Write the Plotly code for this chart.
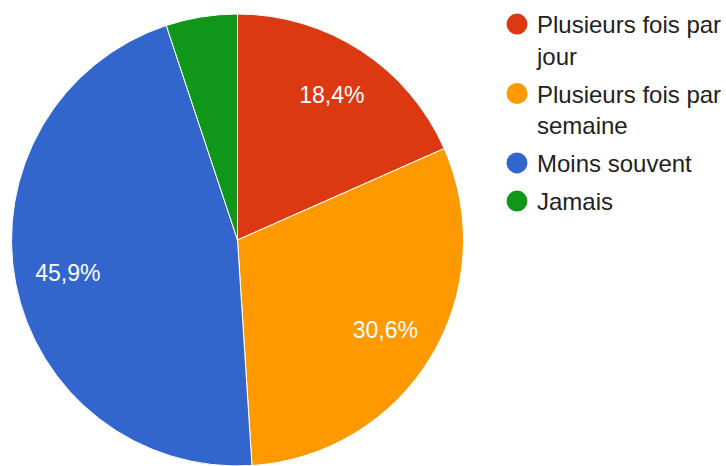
import plotly.graph_objects as go

labels = ["Plusieurs fois par<br>jour", "Plusieurs fois par<br>semaine", "Moins souvent", "Jamais"]
counts = [18, 30, 45, 5]
colors = ["#DC3912", "#FF9900", "#3366CC", "#109618"]
text_templates = ["%{percent:.1%}", "%{percent:.1%}", "%{percent:.1%}", ""]

font_family = "Liberation Sans, Arial, sans-serif"
pie_domain = dict(x=[10/726, 465/726], y=[0, 1])

fig = go.Figure()
# Visible pie
fig.add_trace(go.Pie(
    labels=labels,
    values=counts,
    sort=False,
    direction="clockwise",
    rotation=0,
    marker=dict(colors=colors, line=dict(color="white", width=1)),
    textinfo="none",
    showlegend=False,
    hoverinfo="label+percent",
    domain=pie_domain,
))
# Transparent ring used only to place the percentage labels
fig.add_trace(go.Pie(
    labels=labels,
    values=counts,
    sort=False,
    direction="clockwise",
    rotation=0,
    hole=0.53,
    marker=dict(colors=["rgba(0,0,0,0)"] * len(counts), line=dict(width=0)),
    texttemplate=text_templates,
    textposition="inside",
    insidetextorientation="horizontal",
    textfont=dict(family=font_family, size=23, color="white"),
    showlegend=False,
    hoverinfo="skip",
    domain=pie_domain,
))

for i, (lab, col) in enumerate(zip(labels, colors)):
    fig.add_trace(go.Scatter(
        x=[None], y=[None], mode="markers", name=lab, legendgroup=f"g{i}",
        marker=dict(symbol="circle", size=16, color=col, line=dict(color=col, width=5)),
        showlegend=True,
    ))

fig.update_layout(
    width=726, height=466,
    margin=dict(l=0, r=0, t=14, b=0, autoexpand=False),
    paper_bgcolor="white", plot_bgcolor="white",
    separators=",.",
    xaxis=dict(visible=False), yaxis=dict(visible=False),
    legend=dict(
        x=497/726, y=1 - 2/466, xanchor="left", yanchor="top", yref="container",
        font=dict(family=font_family, size=24, color="#222222"),
        valign="top", itemclick=False, bgcolor="rgba(0,0,0,0)",
        tracegroupgap=4,
    ),
)

fig.write_html("out.html", config={"displayModeBar": False},
               post_script="document.body.style.margin='0';")
